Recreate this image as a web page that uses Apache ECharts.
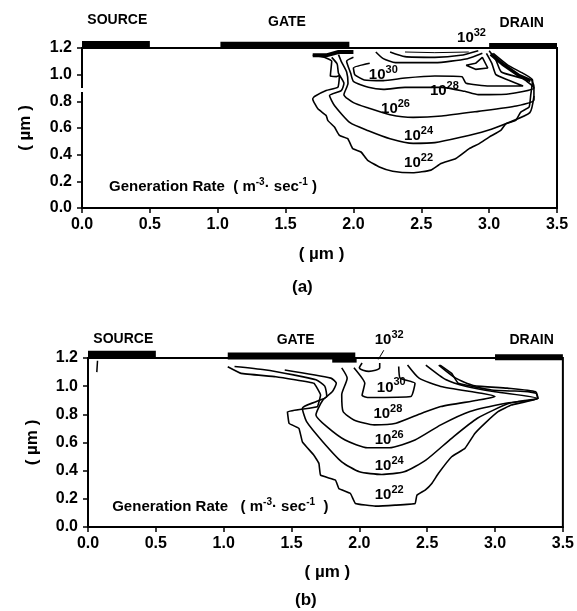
<!DOCTYPE html>
<html><head><meta charset="utf-8">
<script src="https://cdn.jsdelivr.net/npm/echarts@6/dist/echarts.min.js"></script>
<style>html,body{margin:0;padding:0;background:#fff}#c{width:577px;height:611px}</style>
</head><body><div id="c"></div>
<script>
const source=[[0,1.226],[0.5,1.226]];
const gateA=[[1.02,1.22],[1.97,1.22]], drainA=[[3.0,1.215],[3.5,1.215]];
const gateB=[[1.03,1.215],[1.97,1.215]], drainB=[[3.0,1.205],[3.5,1.205]];
const gateFootA=[[1.70,1.145],[1.80,1.145],[1.89,1.17],[2.0,1.17]];
const gateFootB=[[1.80,1.185],[1.98,1.185]];
const wedgeA=[[3.012,1.154],[3.098,1.08],[3.221,0.993],[3.306,0.955]];
const axisGapA=[[0,0.87],[0,0.9]];
const scanMarkB=[[0.07,1.18],[0.065,1.1]];

const a22=[[1.70,1.145],[1.785,1.13],[1.84,1.1],[1.83,0.99],[1.875,0.985],[1.897,0.993],[1.885,0.905],[1.799,0.881],[1.713,0.836],[1.70,0.818],[1.738,0.744],[1.799,0.694],[1.811,0.657],[1.860,0.607],[1.897,0.545],[1.958,0.52],[1.995,0.445],[2.056,0.42],[2.105,0.358],[2.191,0.308],[2.289,0.276],[2.436,0.264],[2.571,0.284],[2.645,0.333],[2.755,0.371],[2.853,0.445],[2.927,0.483],[3.0,0.532],[3.086,0.582],[3.123,0.632],[3.196,0.657],[3.233,0.719],[3.294,0.756],[3.306,0.843],[3.32,0.96],[3.25,1.01],[3.14,1.07],[3.03,1.16]];
const a24=[[1.84,1.13],[1.88,1.08],[1.89,1.01],[1.93,0.935],[1.91,0.88],[1.824,0.843],[1.860,0.769],[1.975,0.64],[2.11,0.58],[2.27,0.52],[2.44,0.485],[2.60,0.49],[2.79,0.53],[2.98,0.58],[3.14,0.64],[3.30,0.715],[3.33,0.84]];
const a26=[[1.89,1.15],[1.91,1.10],[1.95,1.02],[1.96,0.935],[1.93,0.85],[2.0,0.79],[2.11,0.75],[2.27,0.70],[2.44,0.68],[2.65,0.69],[2.92,0.725],[3.2,0.765],[3.33,0.81],[3.33,0.91],[3.31,0.97]];
const a28=[[2.0,1.13],[1.95,1.10],[1.98,1.01],[2.0,0.95],[2.11,0.905],[2.22,0.89],[2.38,0.905],[2.65,0.905],[2.82,0.875],[2.92,0.85],[3.14,0.855],[3.33,0.90],[3.25,0.97],[3.09,1.02],[3.05,1.11],[3.0,1.18]];
const a30=[[2.12,1.085],[2.0,1.05],[2.01,1.0],[2.08,0.96],[2.22,0.955],[2.38,0.975],[2.60,0.99],[2.80,0.985],[2.83,0.935],[3.0,0.915],[3.25,0.915],[3.14,0.96],[3.05,1.0],[3.02,1.085],[2.98,1.16]];
const a30b=[[2.165,1.17],[2.22,1.12],[2.31,1.09],[2.6,1.09],[2.84,1.12],[2.95,1.16]];
const a32=[[2.27,1.17],[2.38,1.135],[2.6,1.13],[2.79,1.145],[2.92,1.18]];
const a32b=[[2.38,1.17],[2.6,1.165],[2.85,1.17]];
const a32c=[[2.83,1.07],[2.9,1.085],[2.95,1.13],[2.99,1.05],[2.9,1.04],[2.83,1.07]];

const b22=[[1.03,1.138],[1.128,1.091],[1.384,1.067],[1.665,1.02],[1.714,0.937],[1.69,0.854],[1.47,0.818],[1.482,0.736],[1.555,0.70],[1.58,0.605],[1.665,0.51],[1.702,0.451],[1.714,0.368],[1.824,0.333],[1.849,0.273],[1.934,0.238],[1.971,0.167],[2.118,0.148],[2.264,0.155],[2.411,0.167],[2.424,0.226],[2.485,0.262],[2.534,0.309],[2.582,0.38],[2.68,0.499],[2.778,0.558],[2.851,0.664],[2.925,0.736],[3.022,0.819],[3.12,0.866],[3.316,0.913],[3.304,0.949],[3.243,0.961],[2.974,0.973],[2.729,1.02],[2.68,1.091],[2.595,1.15]];
const b24=[[1.08,1.14],[1.30,1.117],[1.515,1.08],[1.68,1.045],[1.745,1.0],[1.76,0.927],[1.68,0.89],[1.58,0.844],[1.61,0.75],[1.73,0.606],[1.87,0.463],[2.0,0.392],[2.165,0.373],[2.33,0.392],[2.49,0.475],[2.68,0.63],[2.87,0.772],[3.11,0.88],[3.316,0.913],[3.30,0.96],[3.09,0.986],[2.84,1.005],[2.71,1.057],[2.585,1.15]];
const b26=[[1.45,1.115],[1.79,1.057],[1.83,1.02],[1.80,0.96],[1.73,0.90],[1.68,0.796],[1.76,0.713],[1.895,0.618],[2.06,0.563],[2.22,0.563],[2.41,0.618],[2.60,0.725],[2.815,0.82],[3.09,0.88],[3.316,0.913],[3.0,0.96],[2.79,0.998],[2.64,1.045],[2.49,1.15]];
const b28=[[1.87,1.13],[1.91,1.057],[1.87,0.94],[1.88,0.82],[1.96,0.76],[2.11,0.725],[2.27,0.737],[2.46,0.808],[2.60,0.855],[2.87,0.90],[3.0,0.927],[2.90,0.95],[2.60,0.998],[2.44,1.057],[2.355,1.15]];
const b30=[[1.96,1.13],[2.04,1.02],[2.02,0.934],[2.06,0.92],[2.38,0.927],[2.41,1.02],[2.30,1.057],[2.29,1.14]];
const b32=[[2.02,1.165],[2.0,1.13],[2.07,1.105],[2.15,1.13],[2.15,1.165]];
const b32Leader=[[2.14,1.19],[2.18,1.255]];

const namesA=[[0.26,1.41,'SOURCE'],[1.51,1.395,'GATE'],[3.24,1.385,'DRAIN']];
const namesB=[[0.26,1.335,'SOURCE'],[1.53,1.33,'GATE'],[3.27,1.325,'DRAIN']];
const expsA=[[2.87,1.29,'32'],[2.22,1.01,'30'],[2.67,0.89,'28'],[2.31,0.76,'26'],[2.48,0.555,'24'],[2.48,0.35,'22']];
const expsB=[[2.22,1.343,'32'],[2.235,1.005,'30'],[2.21,0.82,'28'],[2.22,0.635,'26'],[2.22,0.45,'24'],[2.22,0.245,'22']];
const captionA=[[0.965,0.17]], captionB=[[0.975,0.155]];

const FONT='"Liberation Sans",Arial,sans-serif', INK='#000';
function ln(data,i,w,sm,col){return {type:'line',data,xAxisIndex:i,yAxisIndex:i,showSymbol:false,symbol:'none',clip:false,silent:true,animation:false,smooth:sm||false,lineStyle:{color:col||INK,width:w||1.6}};}
function pts(data,i,fmt,rich,extra){return {type:'scatter',data,xAxisIndex:i,yAxisIndex:i,symbolSize:0,clip:false,silent:true,animation:false,itemStyle:{opacity:1},
  label:Object.assign({show:true,position:'inside',color:INK,fontFamily:FONT,fontWeight:'bold',fontSize:14,formatter:fmt,rich:rich||{}},extra||{})};}
const expRich={b:{fontSize:15,fontFamily:FONT,color:INK,padding:[4,0,0,0]},s:{fontSize:11,fontWeight:'bold',fontFamily:FONT,color:INK,padding:[0,0,6,0]}};
const capRich={n:{fontSize:15,fontFamily:FONT,fontWeight:'bold',color:INK,padding:[3,0,0,0]},s:{fontSize:10,fontWeight:'bold',fontFamily:FONT,color:INK,padding:[0,0,6,0]}};
const expFmt=p=>'{b|10}{s|'+p.data[2]+'}';
const capFmtA=()=>'{n|Generation Rate  ( m}{s|-3}{n|· sec}{s|-1}{n| )}';
const capFmtB=()=>'{n|Generation Rate   ( m}{s|-3}{n|· sec}{s|-1}{n|  )}';
const nameFmt=p=>p.data[2];
function xAx(i,gap){return {gridIndex:i,type:'value',min:0,max:3.5,interval:0.5,name:'( µm )',nameLocation:'middle',nameGap:gap,
  nameTextStyle:{fontFamily:FONT,fontSize:17,color:INK,fontWeight:'bold',padding:[0,0,0,4]},
  axisLine:{show:true,onZero:false,lineStyle:{color:INK,width:2}},axisTick:{show:true,length:5,lineStyle:{color:INK,width:1.5}},
  axisLabel:{color:INK,fontFamily:FONT,fontSize:16,fontWeight:'bold',margin:9,formatter:v=>v.toFixed(1)},splitLine:{show:false}};}
function yAx(i,gap){return {gridIndex:i,type:'value',min:0,max:1.2,interval:0.2,name:'( µm )',nameLocation:'middle',nameGap:gap,
  nameTextStyle:{fontFamily:FONT,fontSize:17,color:INK,fontWeight:'bold'},
  axisLine:{show:true,onZero:false,lineStyle:{color:INK,width:2}},axisTick:{show:true,length:5,lineStyle:{color:INK,width:1.5}},
  axisLabel:{color:INK,fontFamily:FONT,fontSize:16,fontWeight:'bold',margin:10,formatter:v=>v.toFixed(1)},splitLine:{show:false}};}
const chart=echarts.init(document.getElementById('c'),null,{renderer:'canvas'});
chart.setOption({animation:false,backgroundColor:'#fff',
 grid:[{left:82,top:48,width:475,height:160,show:true,borderColor:INK,borderWidth:2,backgroundColor:'transparent'},
       {left:88,top:358,width:477,height:169,show:true,borderColor:INK,borderWidth:2,backgroundColor:'transparent'}],
 xAxis:[xAx(0,38),xAx(1,37)],
 yAxis:[yAx(0,48),yAx(1,47)],
 graphic:[
  {type:'text',left:292,top:279,style:{text:'(a)',font:'bold 17px '+FONT,fill:INK}},
  {type:'text',left:295,top:592,style:{text:'(b)',font:'bold 17px '+FONT,fill:INK}}],
 series:[
  ln(source,0,7),ln(gateA,0,7),ln(drainA,0,6),ln(gateFootA,0,4),ln(wedgeA,0,3.5),ln(axisGapA,0,4,false,'#fff'),
  ln(a22,0,1.6,0.15),ln(a24,0,1.6,0.2),ln(a26,0,1.6,0.2),ln(a28,0,1.6,0.2),ln(a30,0,1.6,0.15),ln(a30b,0,1.6,0.2),ln(a32,0,1.6,0.2),ln(a32b,0,1),ln(a32c,0),
  pts(namesA,0,nameFmt),pts(expsA,0,expFmt,expRich),pts(captionA,0,capFmtA,capRich),
  ln(source,1,7),ln(gateB,1,7),ln(drainB,1,6),ln(gateFootB,1,5),ln(scanMarkB,1,1.5),
  ln(b22,1,1.6,0.08),ln(b24,1,1.6,0.2),ln(b26,1,1.6,0.2),ln(b28,1,1.6,0.2),ln(b30,1,1.6,0.15),ln(b32,1,1.6,0.3),ln(b32Leader,1,1),
  pts(namesB,1,nameFmt),pts(expsB,1,expFmt,expRich),pts(captionB,1,capFmtB,capRich)
 ]});
</script></body></html>
